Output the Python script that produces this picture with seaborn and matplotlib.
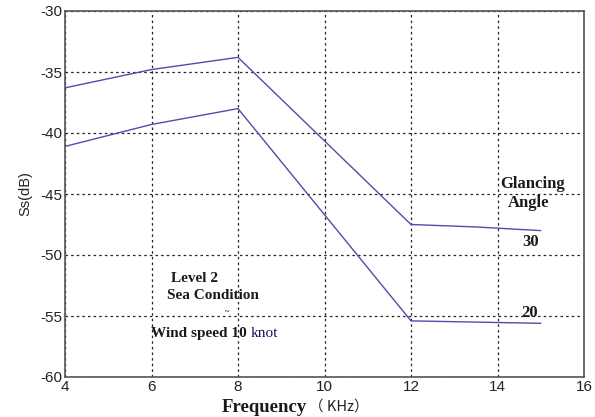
import matplotlib
matplotlib.use("Agg")
import matplotlib.pyplot as plt
import seaborn as sns
import pandas as pd

# Data
freq_30 = [4, 6, 8, 12, 13.5, 15]
ss_30 = [-36.3, -34.8, -33.8, -47.5, -47.7, -48.0]
freq_20 = [4, 6, 8, 12, 13.5, 15]
ss_20 = [-41.1, -39.3, -38.0, -55.4, -55.5, -55.6]
series_names = ["30", "20"]
x_ticks = [4, 6, 8, 10, 12, 14, 16]
y_ticks = [-60, -55, -50, -45, -40, -35, -30]

df = pd.concat([
    pd.DataFrame({"Frequency": freq_30, "Ss": ss_30, "angle": series_names[0]}),
    pd.DataFrame({"Frequency": freq_20, "Ss": ss_20, "angle": series_names[1]}),
])

sns.set_style("white")
plt.rcParams["font.family"] = ["Liberation Sans", "DejaVu Sans"]

fig = plt.figure(figsize=(5.95, 4.17), dpi=100)
ax = fig.add_axes([65 / 595, 1 - 377 / 417, (584 - 65) / 595, (377 - 11) / 417])

line_color = "#4e4eaa"
sns.lineplot(data=df, x="Frequency", y="Ss", hue="angle", units="angle",
             estimator=None, sort=False,
             palette={series_names[0]: line_color, series_names[1]: line_color},
             linewidth=1.0, legend=False, ax=ax)

ax.set_xlim(4, 16)
ax.set_ylim(-60, -30)
ax.set_xticks(x_ticks)
ax.set_yticks(y_ticks)
ax.set_xticklabels([str(t) for t in x_ticks], fontsize=11, color="#222222")
ax.set_yticklabels([str(t) for t in y_ticks], fontsize=11, color="#222222")
ax.tick_params(direction="in", length=3, color="#444444", pad=2)
ax.grid(True, color="#222222", linestyle=(0, (2, 2.5)), linewidth=0.9)
for s in ax.spines.values():
    s.set_color("#555555")
    s.set_linewidth(1.2)

ax.set_xlabel("")
ax.set_ylabel("Ss(dB)", fontsize=10.5, color="#222222", labelpad=6)

serif = ["Liberation Serif", "DejaVu Serif"]
tk = dict(family=serif, fontweight="bold", color="#1a1a1a")
ax.text(14.82, -44.2, "Glancing", ha="center", va="center", fontsize=12, **tk)
ax.text(14.73, -45.75, "Angle", ha="center", va="center", fontsize=12, **tk)
ax.text(14.77, -48.95, series_names[0], ha="center", va="center", fontsize=12, **tk)
ax.text(14.75, -54.75, series_names[1], ha="center", va="center", fontsize=12, **tk)
ax.text(7.0, -51.9, "Level 2", ha="center", va="center", fontsize=11, **tk)
ax.text(7.42, -53.36, "Sea Condition", ha="center", va="center", fontsize=11, **tk)
ax.text(7.75, -54.7, "~", ha="center", va="center", fontsize=6, **tk)
ax.text(5.99, -56.4, "Wind speed 10", ha="left", va="center", fontsize=11, **tk)
ax.text(8.30, -56.4, "knot", ha="left", va="center", fontsize=11,
        family=serif, color="#10105a")

fig.text(307 / 595, 1 - 407 / 417, "Frequency", ha="right", va="center",
         fontsize=13.5, family=serif, fontweight="bold", color="#1a1a1a")
fig.text(309 / 595, 1 - 407 / 417, "（ KHz）", ha="left", va="center",
         fontsize=10.5, family=["Noto Sans CJK SC", "DejaVu Sans"], color="#222222")

fig.savefig("out.png", dpi=100)
